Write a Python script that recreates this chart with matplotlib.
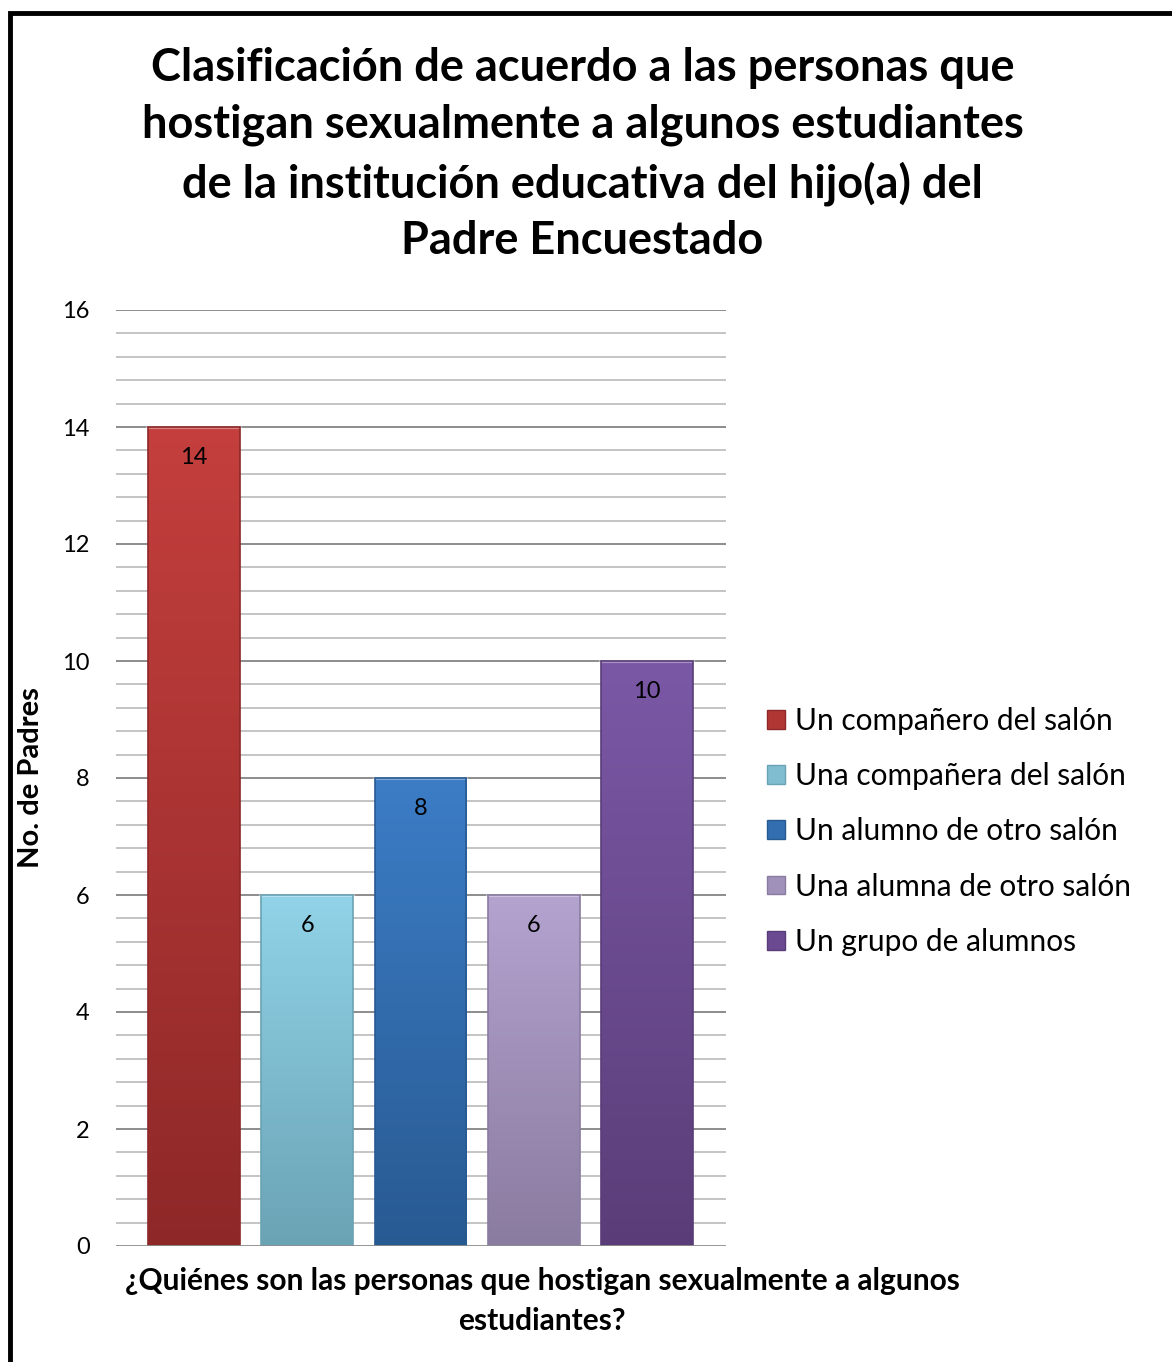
import numpy as np
import matplotlib
matplotlib.use("Agg")
import matplotlib.pyplot as plt
from matplotlib.colors import LinearSegmentedColormap
from matplotlib.patches import Rectangle

# ================= DATA =================
CATEGORIES = [
    "Un compañero del salón",
    "Una compañera del salón",
    "Un alumno de otro salón",
    "Una alumna de otro salón",
    "Un grupo de alumnos",
]
VALUES = [14, 6, 8, 6, 10]
TOP_COLORS = ["#C43F3D", "#91D3E8", "#3C7DC6", "#B3A3CF", "#7B58A6"]
BOTTOM_COLORS = ["#8E2828", "#6AA3B4", "#285A92", "#8A7BA0", "#5A3D78"]
MID_COLORS = ["#B03634", "#80BDD0", "#336EB0", "#A091BA", "#6B4A92"]
Y_TICKS = [0, 2, 4, 6, 8, 10, 12, 14, 16]

TITLE = ("Clasificación de acuerdo a las personas que\n"
         "hostigan sexualmente a algunos estudiantes\n"
         "de la institución educativa del hijo(a) del\n"
         "Padre Encuestado")
X_LABEL = "¿Quiénes son las personas que hostigan sexualmente a algunos\nestudiantes?"
Y_LABEL = "No. de Padres"
# =========================================

plt.rcParams["font.family"] = ["Lato", "DejaVu Sans"]

fig = plt.figure(figsize=(11.72, 13.62), dpi=100, facecolor="white")

# outer border (right / bottom edges fall outside the picture)
fig.patches.append(Rectangle((10 / 1172, -0.05), 1.2, 1 - 13 / 1362 + 0.05,
                             transform=fig.transFigure, fill=False,
                             edgecolor="black", linewidth=3.5, zorder=10))

fig.text(0.497, 1 - 47 / 1362, TITLE, ha="center", va="top", fontsize=32.5,
         fontweight="bold", linespacing=1.42)

ax = fig.add_axes([116 / 1172, 1 - 1246 / 1362, 610 / 1172, 936 / 1362])
x = np.arange(len(VALUES))
width = 0.81

# gridlines: minor every 0.4, major every 2
for y in np.arange(0.4, 16.01, 0.4):
    major = abs(y / 2 - round(y / 2)) < 1e-6
    ax.axhline(y, color="#8c8c8c" if major else "#c4c4c4",
               linewidth=1.4, zorder=0)
ax.axhline(0, color="#8c8c8c", linewidth=2, zorder=4)

bars = ax.bar(x, VALUES, width=width, color=MID_COLORS, zorder=2)
for i, (b, v) in enumerate(zip(bars, VALUES)):
    cmap = LinearSegmentedColormap.from_list(f"g{i}", [TOP_COLORS[i], BOTTOM_COLORS[i]])
    grad = np.linspace(0, 1, 256).reshape(-1, 1)
    im = ax.imshow(grad, cmap=cmap, aspect="auto", zorder=3,
                   extent=(b.get_x(), b.get_x() + b.get_width(), 0, v),
                   origin="upper")
    im.set_clip_path(b)
    # bevel highlight on top edge
    ax.plot([b.get_x(), b.get_x() + b.get_width()], [v, v],
            color="white", alpha=0.35, linewidth=3, zorder=3.5)
    ax.add_patch(Rectangle((b.get_x(), 0), b.get_width(), v, fill=False,
                           edgecolor=BOTTOM_COLORS[i], linewidth=1.2, zorder=3.6))
    ax.text(b.get_x() + b.get_width() / 2, v - 0.52, str(v), ha="center",
            va="center", fontsize=17, zorder=5)

ax.set_xlim(-0.689, 4.697)
ax.set_ylim(0, 16)
ax.set_xticks([])
ax.set_yticks(Y_TICKS)
ax.tick_params(axis="y", length=0, pad=19, labelsize=17)
for s in ax.spines.values():
    s.set_visible(False)

ax.set_ylabel(Y_LABEL, fontsize=21, fontweight="bold")
ax.yaxis.set_label_coords(-0.118, 0.5)
fig.text(542 / 1172, 1 - 1267 / 1362, X_LABEL, ha="center", va="top",
         fontsize=21.5, fontweight="bold", linespacing=1.52)

handles = [Rectangle((0, 0), 1, 1, facecolor=MID_COLORS[i],
                     edgecolor=BOTTOM_COLORS[i], linewidth=1)
           for i in range(len(CATEGORIES))]
fig.legend(handles, CATEGORIES, loc="upper left",
           bbox_to_anchor=(767 / 1172, 1 - 707 / 1362), frameon=False,
           fontsize=21.5, handlelength=0.6, handleheight=0.6,
           handletextpad=0.35, labelspacing=0.91, borderpad=0,
           borderaxespad=0)

fig.savefig("out.png", dpi=100, facecolor="white")
